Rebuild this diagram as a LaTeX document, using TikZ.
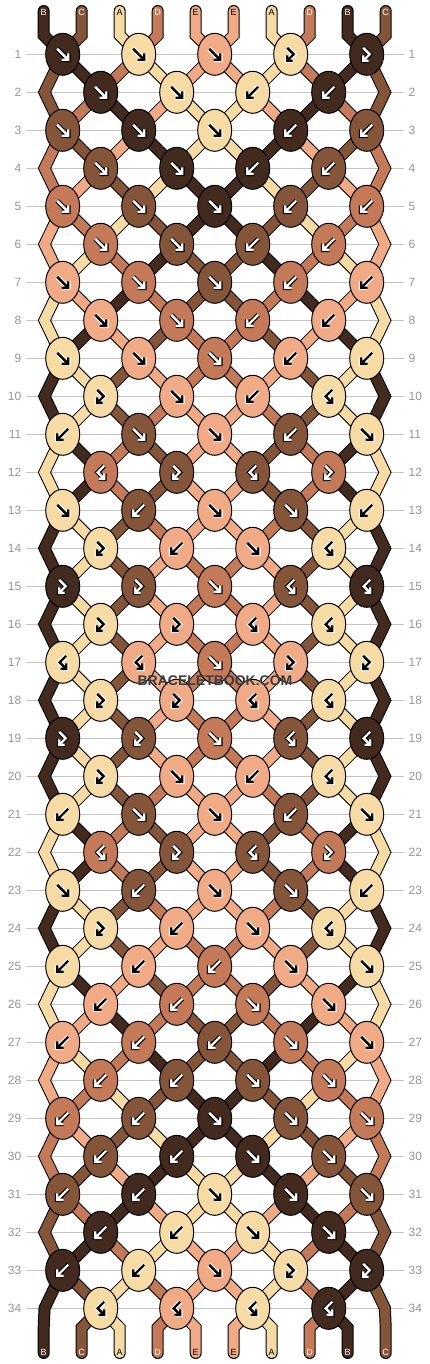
\documentclass[tikz,border=0pt]{standalone}
\usepackage{fontspec}
\newfontfamily\labfont{Liberation Sans}
\usetikzlibrary{shapes.geometric}
\definecolor{sA}{HTML}{F6DBA4}
\definecolor{sB}{HTML}{422A1E}
\definecolor{sC}{HTML}{85553A}
\definecolor{sD}{HTML}{C47958}
\definecolor{sE}{HTML}{F0AA86}
\definecolor{rowline}{HTML}{C4C4C4}
\definecolor{rowtext}{HTML}{969696}
\definecolor{wmtext}{HTML}{3C3C3C}
\def\afgA{black}\def\abgA{white}
\def\afgE{black}\def\abgE{white}
\def\afgB{white}\def\abgB{black}
\def\afgC{white}\def\abgC{black}
\def\afgD{white}\def\abgD{black}
\def\ltA{black}\def\ltE{black}\def\ltB{white}\def\ltC{white}\def\ltD{white}
\pgfdeclarelayer{bg}
\pgfdeclarelayer{strings}
\pgfsetlayers{bg,strings,main}
\tikzset{
  knotnode/.style={ellipse, draw=black, line width=1pt, minimum width=34pt, minimum height=42pt, inner sep=0pt},
  strand/.style={line width=10pt, line join=miter, line cap=round,
    preaction={draw=black, line width=12pt, line join=miter, line cap=round}},
  arrout/.style={line width=4.6pt, line join=miter, line cap=butt},
  arrin/.style={line width=2.4pt, line join=miter, line cap=butt},
  rowln/.style={draw=rowline, line width=1pt},
  rowlab/.style={font=\labfont\fontsize{12}{12}\selectfont, text=rowtext, inner sep=0pt},
  endlab/.style={font=\labfont\fontsize{9}{9}\selectfont, inner sep=0pt},
}
\newcommand\AppendTo[2]{%
  \expandafter\xdef\csname path#1\endcsname{\csname path#1\endcsname\space -- (#2)}}
\newcommand\SwapSlots{%
  \expandafter\xdef\csname slot\ls\endcsname{\sb}%
  \expandafter\xdef\csname slot\rs\endcsname{\sa}}
\newcommand\DrawArrow[1]{%
  \edef\afg{\csname afg\kc\endcsname}\edef\abg{\csname abg\kc\endcsname}%
  \if#1F\def\arrpath{(-5.5,-5.5) -- (5.5,5.5) (-1,5.5) -- (5.5,5.5) -- (5.5,-1)}\fi
  \if#1B\def\arrpath{(5.5,-5.5) -- (-5.5,5.5) (1,5.5) -- (-5.5,5.5) -- (-5.5,-1)}\fi
  \if#1f\def\arrpath{(-3.5,-6.5) -- (3,0) -- (-3.5,6.5) (-3.5,1) -- (-3.5,6.5) -- (2,6.5)}\fi
  \if#1b\def\arrpath{(3.5,-6.5) -- (-3,0) -- (3.5,6.5) (3.5,1) -- (3.5,6.5) -- (-2,6.5)}\fi
  \edef\tmp{\noexpand\draw[arrout, draw=\abg, shift={(\xx,\yy)}] \arrpath;
    \noexpand\draw[arrin, draw=\afg, shift={(\xx,\yy)}] \arrpath;}\tmp}
\newcommand\DoKnot[1]{%
  \pgfmathtruncatemacro\kk{\kk+1}%
  \ifodd\rr\relax
    \pgfmathtruncatemacro\ls{2*\kk-1}\pgfmathtruncatemacro\rs{2*\kk}%
    \pgfmathsetmacro\xx{62.7+76*(\kk-1)}%
  \else
    \pgfmathtruncatemacro\ls{2*\kk}\pgfmathtruncatemacro\rs{2*\kk+1}%
    \pgfmathsetmacro\xx{100.7+76*(\kk-1)}%
  \fi
  \edef\sa{\csname slot\ls\endcsname}%
  \edef\sb{\csname slot\rs\endcsname}%
  \edef\ca{\csname col\sa\endcsname}%
  \edef\cb{\csname col\sb\endcsname}%
  \if#1F\edef\kc{\ca}\fi
  \if#1f\edef\kc{\ca}\fi
  \if#1B\edef\kc{\cb}\fi
  \if#1b\edef\kc{\cb}\fi
  \node[knotnode, fill=s\kc] (k-\rr-\kk) at (\xx,\yy) {};%
  \AppendTo{\sa}{k-\rr-\kk.center}%
  \AppendTo{\sb}{k-\rr-\kk.center}%
  \if#1F\SwapSlots\fi
  \if#1B\SwapSlots\fi
  \DrawArrow{#1}}
\def\KnotLoop#1{\ifx#1\relax\else\DoKnot{#1}\expandafter\KnotLoop\fi}
\newcommand\DoRow[2]{%
  \def\rr{#1}\def\kk{0}%
  \pgfmathsetmacro\yy{54.3+38*(#1-1)}%
  \begin{pgfonlayer}{bg}\draw[rowln] (26,\yy) -- (404,\yy);\end{pgfonlayer}%
  \node[rowlab, anchor=east] (ll-#1) at (21.5,\yy) {#1};%
  \node[rowlab, anchor=west] (rl-#1) at (408.5,\yy) {#1};%
  \KnotLoop#2\relax
  \ifodd#1\relax\else
    \coordinate (eL-#1) at (44.5,\yy);%
    \coordinate (eR-#1) at (384.9,\yy);%
    \AppendTo{\csname slot1\endcsname}{eL-#1}%
    \AppendTo{\csname slot10\endcsname}{eR-#1}%
  \fi}
\begin{document}
\begin{tikzpicture}[x=1pt,y=-1pt]
\useasboundingbox (0,0) rectangle (430,1364);
\begin{pgfonlayer}{bg}\fill[white] (0,0) rectangle (430,1364);\end{pgfonlayer}
\foreach \cl [count=\i] in {B,C,A,D,E,E,A,D,B,C} {
  \expandafter\xdef\csname col\i\endcsname{\cl}
  \expandafter\xdef\csname slot\i\endcsname{\i}
  \pgfmathsetmacro\xs{43.7+38*(\i-1)}
  \coordinate (t-\i) at (\xs,11);
  \coordinate (tb-\i) at (\xs,35.3);
  \coordinate (bb-\i) at (\xs,1327.7);
  \coordinate (b-\i) at (\xs,1353);
  \node[endlab, text=\csname lt\cl\endcsname] (tl-\i) at (\xs,12.7) {\cl};
  \node[endlab, text=\csname lt\cl\endcsname] (bl-\i) at (\xs,1352.7) {\cl};
  \expandafter\xdef\csname path\i\endcsname{(t-\i) -- (tb-\i)}
}
\DoRow{1}{FFFff}
\DoRow{2}{FFBB}
\DoRow{3}{FFFBB}
\DoRow{4}{FFBB}
\DoRow{5}{FFFBB}
\DoRow{6}{FFBB}
\DoRow{7}{FFFBB}
\DoRow{8}{FFBB}
\DoRow{9}{FFFBB}
\DoRow{10}{fFBb}
\DoRow{11}{BFFBF}
\DoRow{12}{bfbf}
\DoRow{13}{FBFFB}
\DoRow{14}{fBFb}
\DoRow{15}{ffFbb}
\DoRow{16}{ffbb}
\DoRow{17}{bbFff}
\DoRow{18}{ffbb}
\DoRow{19}{ffFbb}
\DoRow{20}{fFBb}
\DoRow{21}{BFFBF}
\DoRow{22}{bfbf}
\DoRow{23}{FBFFB}
\DoRow{24}{fBFb}
\DoRow{25}{BBBFF}
\DoRow{26}{BBFF}
\DoRow{27}{BBBFF}
\DoRow{28}{BBFF}
\DoRow{29}{BBFFF}
\DoRow{30}{BBFF}
\DoRow{31}{BBFFF}
\DoRow{32}{BBFF}
\DoRow{33}{BBFff}
\DoRow{34}{bbbb}
\foreach \s in {1,...,10}{\AppendTo{\csname slot\s\endcsname}{bb-\s) -- (b-\s}}
\begin{pgfonlayer}{strings}
\foreach \i in {1,...,10}{%
  \edef\tmp{\noexpand\draw[strand, draw=s\csname col\i\endcsname] \csname path\i\endcsname;}\tmp
}
\end{pgfonlayer}
\node[font=\labfont\bfseries\fontsize{14}{14}\selectfont, text=wmtext, inner sep=0pt] (wm) at (215,680.5) {BRACELETBOOK.COM};
\end{tikzpicture}
\end{document}
